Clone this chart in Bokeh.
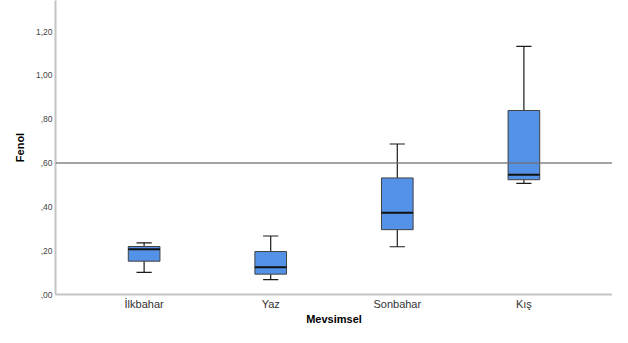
from bokeh.plotting import figure
from bokeh.models import FactorRange, Range1d, FixedTicker, Span, ColumnDataSource
from bokeh.transform import dodge
from bokeh.embed import file_html
from bokeh.resources import INLINE

seasons = ["İlkbahar", "Yaz", "Sonbahar", "Kış"]
whisker_low = [0.101, 0.068, 0.218, 0.507]
q1 = [0.152, 0.093, 0.296, 0.524]
median = [0.206, 0.124, 0.373, 0.547]
q3 = [0.219, 0.196, 0.532, 0.840]
whisker_high = [0.236, 0.267, 0.687, 1.133]
ref_value = 0.60
y_ticks = [0.0, 0.2, 0.4, 0.6, 0.8, 1.0, 1.2]
y_tick_labels = [",00", ",20", ",40", ",60", ",80", "1,00", "1,20"]

src = ColumnDataSource(dict(season=seasons, lo=whisker_low, q1=q1, med=median,
                            q3=q3, hi=whisker_high))

p = figure(width=612, height=327, output_backend="svg", toolbar_location=None,
           x_range=FactorRange(*seasons, range_padding=0.2, range_padding_units="absolute"),
           y_range=Range1d(0, 1.342),
           min_border_left=55, min_border_right=0, min_border_top=0, min_border_bottom=0)
p.outline_line_color = None
p.xgrid.grid_line_color = None
p.ygrid.grid_line_color = None

FONT = "Liberation Sans"
# y axis
p.yaxis.ticker = FixedTicker(ticks=y_ticks)
p.yaxis.major_label_overrides = {t: l for t, l in zip(y_ticks, y_tick_labels)}
p.yaxis.axis_label = "Fenol"
p.yaxis.axis_label_text_font = FONT
p.yaxis.axis_label_text_font_style = "bold"
p.yaxis.axis_label_text_font_size = "11px"
p.yaxis.axis_label_text_color = "#000000"
p.yaxis.axis_label_standoff = 7
p.yaxis.major_label_text_font = FONT
p.yaxis.major_label_text_font_size = "8.5px"
p.yaxis.major_label_text_color = "#444444"
p.yaxis.major_label_standoff = 3
p.yaxis.major_tick_line_color = None
p.yaxis.major_tick_out = 0
p.yaxis.major_tick_in = 0
p.yaxis.minor_tick_line_color = None
p.yaxis.minor_tick_out = 0
p.yaxis.axis_line_color = "#c4c4c4"
p.yaxis.axis_line_width = 2

# x axis
p.xaxis.axis_label = "Mevsimsel"
p.xaxis.axis_label_text_font = FONT
p.xaxis.axis_label_text_font_style = "bold"
p.xaxis.axis_label_text_font_size = "11px"
p.xaxis.axis_label_text_color = "#000000"
p.xaxis.axis_label_standoff = 0
p.xaxis.major_label_text_font = FONT
p.xaxis.major_label_text_font_size = "11px"
p.xaxis.major_label_text_color = "#333333"
p.xaxis.major_label_standoff = 3
p.xaxis.major_tick_line_color = None
p.xaxis.major_tick_out = 0
p.xaxis.major_tick_in = 0
p.xaxis.minor_tick_line_color = None
p.xaxis.minor_tick_out = 0
p.xaxis.axis_line_color = "#c4c4c4"
p.xaxis.axis_line_width = 2

# whiskers
p.segment(x0="season", y0="q3", x1="season", y1="hi", source=src, line_color="#1a1a1a", line_width=1.2)
p.segment(x0="season", y0="q1", x1="season", y1="lo", source=src, line_color="#1a1a1a", line_width=1.2)
capL = dodge("season", -0.06, range=p.x_range)
capR = dodge("season", 0.06, range=p.x_range)
p.segment(x0=capL, y0="hi", x1=capR, y1="hi", source=src, line_color="#1a1a1a", line_width=1.2)
p.segment(x0=capL, y0="lo", x1=capR, y1="lo", source=src, line_color="#1a1a1a", line_width=1.2)

# boxes
p.vbar(x="season", width=0.25, bottom="q1", top="q3", source=src,
       fill_color="#5392e6", line_color="#404040", line_width=1)
medL = dodge("season", -0.125, range=p.x_range)
medR = dodge("season", 0.125, range=p.x_range)
p.segment(x0=medL, y0="med", x1=medR, y1="med", source=src, line_color="#111111", line_width=2)

# reference line
p.add_layout(Span(location=ref_value, dimension="width", line_color="#707070",
                  line_alpha=0.85, line_width=1.5))

open("out.html", "w").write(file_html(p, INLINE))
